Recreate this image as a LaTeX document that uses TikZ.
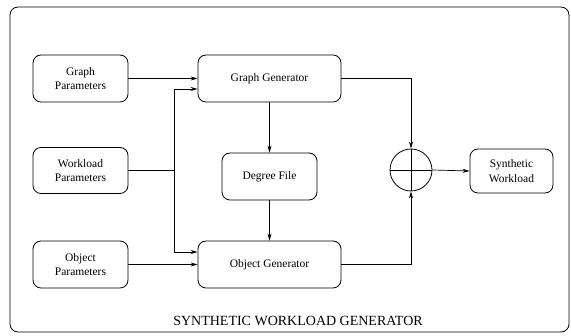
\documentclass[tikz,border=0pt]{standalone}
\usepackage{fontspec}
\setmainfont{Liberation Serif}
\usetikzlibrary{arrows.meta,calc}
\tikzset{
  box/.style={draw, line width=0.8pt, rounded corners=8pt, align=center, inner sep=0pt,
    font=\fontsize{11.5}{14.5}\selectfont},
  arr/.style={line width=0.7pt, -{Stealth[length=7pt,width=4pt]}},
  ln/.style={line width=0.7pt},
}
\begin{document}
\begin{tikzpicture}[x=1pt,y=-1pt]
\useasboundingbox (0,0) rectangle (571,336);
% outer frame
\draw[line width=0.8pt, rounded corners=8pt] (10,7) rectangle (569,332);
\node[font=\fontsize{14}{16}\selectfont] (title) at (298,321) {SYNTHETIC WORKLOAD GENERATOR};
% boxes
\node[box, minimum width=95pt, minimum height=47pt] (gp) at (80.5,78.5) {Graph\\Parameters};
\node[box, minimum width=95pt, minimum height=46pt] (wp) at (80.5,170.5) {Workload\\Parameters};
\node[box, minimum width=95pt, minimum height=47pt] (op) at (80.5,264.5) {Object\\Parameters};
\node[box, minimum width=143pt, minimum height=47pt] (gg) at (269.5,78.5) {Graph Generator};
\node[box, minimum width=95pt, minimum height=47pt] (df) at (269.5,176.5) {Degree File};
\node[box, minimum width=143pt, minimum height=47pt] (og) at (269.5,264.5) {Object Generator};
\node[draw, line width=0.8pt, circle, minimum size=42pt, inner sep=0pt] (sum) at (411,170) {};
\node[box, minimum width=83pt, minimum height=44pt] (sw) at (511.5,171) {Synthetic\\Workload};
% cross in circle
\draw[ln] (sum.west) -- (sum.east);
\draw[ln] (sum.north) -- (sum.south);
% junction
\coordinate (jw) at (174,170.5);
% connectors
\draw[arr] (gp.east) -- (gg.west);
\draw[arr] (op.east) -- (og.west);
\draw[ln] (wp.east) -- (jw);
\draw[arr] (jw) |- ([yshift=-10.5pt]gg.west);
\draw[arr] (jw) |- ([yshift=12.5pt]og.west);
\draw[arr] (gg.south) -- (df.north);
\draw[arr] (df.south) -- (og.north);
\draw[arr] (gg.east) -| (sum.north);
\draw[arr] (og.east) -| (sum.south);
\draw[arr] (sum.east) -- (sw.west);
\end{tikzpicture}
\end{document}
